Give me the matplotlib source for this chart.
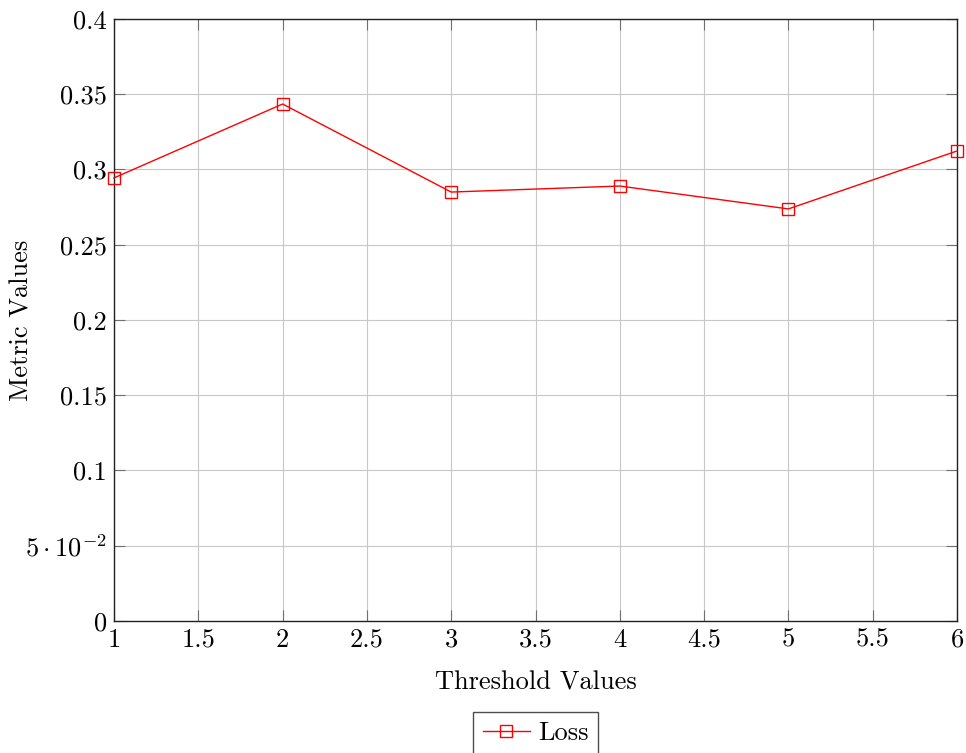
import matplotlib
matplotlib.use("Agg")
import matplotlib.pyplot as plt
from matplotlib.ticker import FixedLocator, FixedFormatter

plt.rcParams["font.family"] = "serif"
plt.rcParams["font.serif"] = ["cmr10", "DejaVu Serif"]
plt.rcParams["mathtext.fontset"] = "cm"
plt.rcParams["axes.formatter.use_mathtext"] = True

# Loss measured at each threshold
thresholds = [1, 2, 3, 4, 5, 6]
loss = [0.2944, 0.3435, 0.285, 0.289, 0.2738, 0.3123]

x_ticks = [1, 1.5, 2, 2.5, 3, 3.5, 4, 4.5, 5, 5.5, 6]
x_tick_labels = ["1", "1.5", "2", "2.5", "3", "3.5", "4", "4.5", "5", "5.5", "6"]
y_ticks = [0, 0.05, 0.1, 0.15, 0.2, 0.25, 0.3, 0.35, 0.4]
y_tick_labels = ["0", r"$5\cdot10^{-2}$", "0.1", "0.15", "0.2", "0.25", "0.3", "0.35", "0.4"]

FS = 19

fig = plt.figure(figsize=(9.66, 7.53), dpi=100)
ax = fig.add_axes([0.118, 0.1753, 0.8727, 0.7995])

ax.plot(thresholds, loss, color="red", linewidth=1.0, marker="s", markersize=9,
        markerfacecolor="none", markeredgecolor="red", markeredgewidth=1.0,
        label="Loss", zorder=3, clip_on=False)

ax.set_xlim(1, 6)
ax.set_ylim(0, 0.4)
ax.xaxis.set_major_locator(FixedLocator(x_ticks))
ax.xaxis.set_major_formatter(FixedFormatter(x_tick_labels))
ax.yaxis.set_major_locator(FixedLocator(y_ticks))
ax.yaxis.set_major_formatter(FixedFormatter(y_tick_labels))

ax.grid(True, color="#c8c8c8", linewidth=0.8)
ax.set_axisbelow(True)
ax.tick_params(direction="in", length=8, width=0.8, color="#707070",
               top=True, right=True, labelsize=FS, pad=5)
for s in ax.spines.values():
    s.set_color("#222222")
    s.set_linewidth(1.0)

ax.set_xlabel("Threshold Values", fontsize=FS)
ax.set_ylabel("Metric Values", fontsize=FS)
ax.xaxis.set_label_coords(0.5, -0.103)
ax.yaxis.set_label_coords(-0.109, 0.5)
ax.xaxis.label.set_va("center")
ax.yaxis.label.set_va("center")

leg = ax.legend(loc="upper center", bbox_to_anchor=(0.5, -0.151), fontsize=FS,
                frameon=True, fancybox=False, edgecolor="#222222",
                handlelength=1.8, borderpad=0.35, handletextpad=0.3,
                borderaxespad=0)
leg.get_frame().set_linewidth(1.0)

fig.savefig("out.png", dpi=100)
